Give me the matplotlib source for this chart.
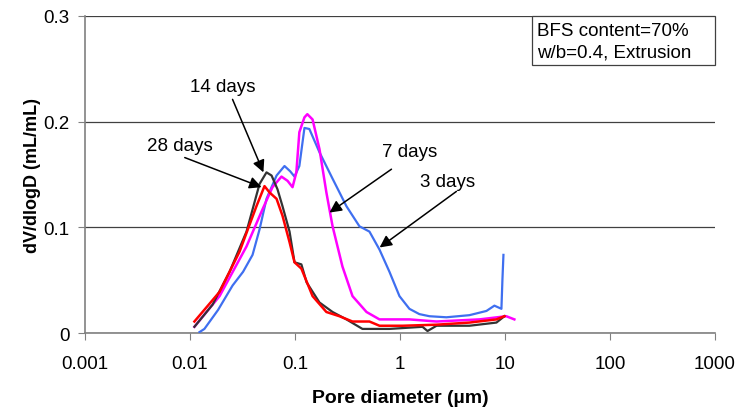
import matplotlib.pyplot as plt
from matplotlib.patches import Rectangle

#### DATA ######################################
# pore diameter (um) / dV/dlogD (mL/mL)
d_3 = [0.0123, 0.0137, 0.0185, 0.0254, 0.0320, 0.0394, 0.0459, 0.0535, 0.0667,
       0.0794, 0.0900, 0.0989, 0.110, 0.123, 0.137, 0.171, 0.228, 0.309, 0.411,
       0.512, 0.638, 0.794, 0.989, 1.23, 1.53, 1.91, 2.77, 4.59, 6.67, 7.94,
       9.26, 9.47, 9.68]
v_3 = [0.001, 0.004, 0.022, 0.045, 0.058, 0.074, 0.098, 0.127, 0.149,
       0.158, 0.153, 0.148, 0.158, 0.194, 0.193, 0.171, 0.146, 0.120, 0.101,
       0.096, 0.079, 0.058, 0.035, 0.023, 0.018, 0.016, 0.015, 0.017, 0.021, 0.026,
       0.023, 0.051, 0.074]

d_7 = [0.0110, 0.0191, 0.0345, 0.0490, 0.0610, 0.0743, 0.0849, 0.0947, 0.103,
       0.110, 0.123, 0.131, 0.147, 0.171, 0.199, 0.228, 0.283, 0.353, 0.480,
       0.638, 1.23, 2.23, 5.71, 10.3, 12.3]
v_7 = [0.006, 0.035, 0.082, 0.117, 0.138, 0.148, 0.144, 0.138, 0.152,
       0.190, 0.204, 0.207, 0.202, 0.174, 0.133, 0.101, 0.063, 0.035, 0.020,
       0.013, 0.013, 0.011, 0.013, 0.016, 0.013]

d_14 = [0.0110, 0.0164, 0.0238, 0.0345, 0.0459, 0.0535, 0.0598, 0.0681, 0.0760,
        0.0887, 0.0989, 0.115, 0.129, 0.171, 0.228, 0.309, 0.439, 0.794, 1.64,
        1.83, 2.23, 4.59, 8.30, 9.89]
v_14 = [0.006, 0.027, 0.058, 0.096, 0.141, 0.152, 0.149, 0.136, 0.120,
        0.096, 0.067, 0.065, 0.048, 0.029, 0.020, 0.013, 0.004, 0.004, 0.006,
        0.002, 0.007, 0.007, 0.010, 0.016]

d_28 = [0.0110, 0.0191, 0.0296, 0.0429, 0.0512, 0.0572, 0.0667, 0.0760, 0.0887,
        0.0989, 0.115, 0.147, 0.199, 0.265, 0.353, 0.512, 0.638, 1.06, 2.23,
        4.59, 8.30, 9.89]
v_28 = [0.011, 0.039, 0.077, 0.120, 0.139, 0.133, 0.127, 0.111, 0.086,
        0.067, 0.061, 0.035, 0.020, 0.016, 0.011, 0.011, 0.007, 0.007, 0.008,
        0.010, 0.013, 0.016]

x_ticks = [0.001, 0.01, 0.1, 1, 10, 100, 1000]
x_tick_labels = ['0.001', '0.01', '0.1', '1', '10', '100', '1000']
y_ticks = [0, 0.1, 0.2, 0.3]
y_tick_labels = ['0', '0.1', '0.2', '0.3']

# label text, label position, arrow tail, arrow head (data coords)
notes = [
    ('14 days', (0.0204, 0.233), (0.0254, 0.221), (0.050, 0.152)),
    ('28 days', (0.0080, 0.177), (0.0089, 0.166), (0.048, 0.138)),
    ('7 days', (1.23, 0.172), (0.83, 0.155), (0.213, 0.114)),
    ('3 days', (2.83, 0.143), (3.45, 0.134), (0.64, 0.081)),
]

#### PLOT ######################################
plt.rcParams['font.family'] = ['Liberation Sans', 'DejaVu Sans']

fig = plt.figure(figsize=(7.4, 4.1), dpi=100)
ax = fig.add_axes([0.115, 0.185, 0.851, 0.774])

ax.plot(d_3, v_3, color='#3f6ff0', lw=1.6, zorder=3)
ax.plot(d_7, v_7, color='#ff00ff', lw=1.8, zorder=3)
ax.plot(d_14, v_14, color='#333333', lw=1.6, zorder=3)
ax.plot(d_28, v_28, color='#ff0000', lw=1.8, zorder=4)

ax.set_xscale('log')
ax.set_xlim(0.001, 1000)
ax.set_ylim(0, 0.3)
ax.set_xticks(x_ticks)
ax.set_xticklabels(x_tick_labels)
ax.minorticks_off()
ax.set_yticks(y_ticks)
ax.set_yticklabels(y_tick_labels)
ax.tick_params(labelsize=13.5, length=5, color='#808080', pad=6)
ax.tick_params(axis='x', direction='out', pad=11)

ax.grid(axis='y', color='#404040', lw=0.9)
ax.set_axisbelow(True)
for side in ['top', 'right']:
    ax.spines[side].set_visible(False)
for side in ['left', 'bottom']:
    ax.spines[side].set_color('#808080')
    ax.spines[side].set_linewidth(1.2)

ax.set_xlabel('Pore diameter (µm)', fontsize=14, fontweight='bold', labelpad=12)
ax.set_ylabel('dV/dlogD (mL/mL)', fontsize=13, fontweight='bold', labelpad=2)

for text, xy_text, xy_tail, xy_head in notes:
    ax.text(xy_text[0], xy_text[1], text, fontsize=13.5,
            ha='center', va='center', zorder=5)
    ax.annotate('', xy=xy_head, xytext=xy_tail, zorder=5,
                arrowprops=dict(arrowstyle='-|>', color='black', lw=1.1,
                                mutation_scale=18, shrinkA=0, shrinkB=0))

# info box in the top right corner
ax.add_patch(Rectangle((0.7095, 0.845), 0.2905, 0.155, transform=ax.transAxes,
                       fc='white', ec='#404040', lw=0.9, zorder=6, clip_on=False))
ax.text(0.717, 0.955, 'BFS content=70%', transform=ax.transAxes,
        ha='left', va='center', fontsize=13.5, zorder=7)
ax.text(0.717, 0.885, 'w/b=0.4, Extrusion', transform=ax.transAxes,
        ha='left', va='center', fontsize=13.5, zorder=7)

fig.savefig('out.png', dpi=100)
